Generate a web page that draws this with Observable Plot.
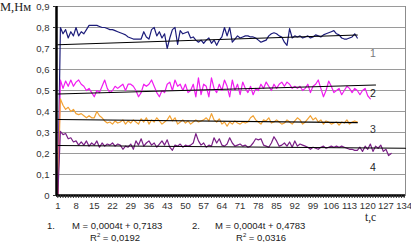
<!DOCTYPE html>
<html>
<head>
<meta charset="utf-8">
<script src="https://cdn.jsdelivr.net/npm/d3@7"></script>
<script src="https://cdn.jsdelivr.net/npm/@observablehq/plot@0.6"></script>
<style>
  html, body { margin: 0; padding: 0; background: #fff; }
</style>
</head>
<body>
<div id="chart"></div>
<script>
// ---- data ----
const yTicks = [0, 0.1, 0.2, 0.3, 0.4, 0.5, 0.6, 0.7, 0.8, 0.9];
const yTickLabels = ["0", "0,1", "0,2", "0,3", "0,4", "0,5", "0,6", "0,7", "0,8", "0,9"];
const xTickLabels = [1, 8, 15, 22, 29, 36, 43, 50, 57, 64, 71, 78, 85, 92, 99, 106, 113, 120, 127, 134];

// series 1 (t = 1..116)
const s1 = [0, .80, .77, .79, .75, .78, .76, .80, .76, .78, .77, .79,
  .81, .81, .81, .81, .805, .80, .80, .795,
  .79, .79, .785, .78, .775, .77, .765, .755, .75, .745, .745, .745, .745,
  .78, .755, .745, .79, .80, .76, .78, .75, .77, .70,
  .75, .79, .80, .72, .785, .77, .775, .78, .75, .755, .74, .73, .74, .725, .74, .75, .725,
  .74, .715, .74, .755, .80, .76, .80, .73, .745, .76, .75, .755, .76, .76, .755, .755,
  .75, .74, .73, .735, .74, .76, .77, .775, .77, .76, .755, .73,
  .715, .795, .75, .76, .755, .76, .75, .755, .76, .75, .755, .765, .76, .755, .765, .77,
  .775, .78, .785, .77, .765, .75, .745, .745, .75, .755, .77, .75];

// series 2 (t = 1..121)
const s2 = [0, .55, .51, .545, .52, .55, .52, .54, .55, .53, .52, .50, .51, .49, .47, .50, .49, .52,
  .55, .51, .49, .50, .52, .51, .52, .53, .50, .53, .53, .52, .50, .47, .49, .53, .52, .53, .55,
  .52, .49, .47, .50, .49, .53,
  .54, .50, .55, .52, .53, .50, .53, .49, .50, .53, .47, .56, .48, .53, .52, .47, .56, .51, .49,
  .53, .50, .55, .52, .47, .55, .50, .53, .48, .54, .51, .49, .52, .48, .51, .50, .53, .51, .54,
  .52, .50, .53, .51, .53, .54, .52,
  .54, .53, .51, .52, .51, .52, .50, .51, .53, .49, .52, .53, .55, .51, .47, .50, .545, .52, .49,
  .50, .51, .48, .50, .52, .51, .49, .51, .50, .48, .50, .51, .475, .46];

// series 3 (t = 1..116)
const s3 = [0, .46, .43, .41, .42, .40, .41, .39, .385, .39, .38, .37, .38, .37, .37, .40, .38, .37,
  .355, .345, .35, .34, .355, .345, .35, .36, .34, .355, .345, .36, .35, .34, .365, .35, .37, .34,
  .36, .35, .37, .355, .34, .35, .36, .38, .355, .37, .34, .35, .36, .345, .355, .34, .35, .36,
  .35, .355, .36, .37, .355, .39, .36, .35, .365, .34, .35, .33, .35, .34, .355, .345, .34, .35,
  .345, .35, .37, .38, .36, .35, .34, .36, .355, .37, .345, .35, .36, .35, .34, .345, .36, .35,
  .34, .355, .37, .36, .34, .35, .365, .38, .36, .37, .35, .36, .34, .355, .35, .34, .345, .35,
  .335, .35, .345, .36, .34, .35, .355, .35];

// series 4 (t = 1..129)
const s4 = [0, .305, .29, .295, .27, .275, .255, .26, .24, .255, .24, .26, .235, .25, .24, .26, .23,
  .25, .235, .245, .24, .25, .235, .245, .24, .22, .235, .23, .245, .22, .26, .24, .27, .235, .25,
  .26, .24, .25, .23, .245, .26, .24, .265, .23, .215, .24, .235, .245, .23, .24, .235, .24, .25,
  .295, .26, .24, .25, .23, .24, .235, .275, .25, .27, .24, .235, .245, .275, .25, .235, .24, .245,
  .235, .24, .23, .235, .25, .27, .265, .27, .24, .235, .23, .25, .28, .26, .235, .24, .25, .235,
  .255, .23, .26, .235, .245, .24, .235, .23, .22, .23, .225, .22, .23, .235, .225, .23, .235, .23,
  .235, .23, .235, .23, .225, .22, .22, .215, .215, .23, .21, .235, .22, .245, .21, .235, .225, .24,
  .21, .22, .19, .20];

// linear trend lines: endpoints [t, value]
const trend1 = [[1, 0.718], [116, 0.764]];
const trend2 = [[1, 0.483], [123, 0.526]];
const trend3 = [[1, 0.362], [116, 0.347]];
const trend4 = [[1, 0.238], [134.5, 0.225]];

const seriesNames = ["1", "2", "3", "4"];
const seriesColors = ["#1c1c7a", "#f01cf0", "#f2a233", "#7a1f86"];
const labelColors = ["#777", "#222", "#333", "#222"];
const labelT = [122, 122, 122, 122];
const labelV = [0.675, 0.485, 0.315, 0.135];

// ---- build tables ----
const allSeries = [s1, s2, s3, s4];
const lineData = allSeries.flatMap((arr, k) => arr.map((v, i) => ({t: i + 1, v, s: seriesNames[k]})));
const trends = [trend1, trend2, trend3, trend4];
const trendData = trends.flatMap((tr, k) => tr.map(([t, v]) => ({t, v, s: seriesNames[k]})));
const labelData = seriesNames.map((n, k) => ({n, t: labelT[k], v: labelV[k], c: labelColors[k]}));

const fmtY = d => yTickLabels[yTicks.findIndex(y => Math.abs(y - d) < 1e-9)];

const chart = Plot.plot({
  width: 411,
  height: 242,
  marginLeft: 56,
  marginRight: 6,
  marginTop: 6,
  marginBottom: 47,
  style: {fontFamily: "'Liberation Sans', Arial, sans-serif", fontSize: "9.5px", color: "#333", background: "#fff"},
  x: {domain: [0.5, 134.5]},
  y: {domain: [0, 0.9]},
  color: {domain: seriesNames, range: seriesColors},
  marks: [
    Plot.frame({stroke: "#8c8c8c"}),
    Plot.gridY(yTicks.filter(d => d > 0), {stroke: "#9a9a9a", strokeOpacity: 1, strokeWidth: 1}),
    Plot.line(lineData, {x: "t", y: "v", z: "s", stroke: "s", strokeWidth: 1.2}),
    Plot.line(trendData, {x: "t", y: "v", z: "s", stroke: "#000", strokeWidth: 1.1}),
    Plot.ruleX([0.5], {stroke: "#000", strokeWidth: 2.5}),
    Plot.ruleY([0], {stroke: "#000", strokeWidth: 2.5}),
    Plot.axisY({ticks: yTicks, tickFormat: fmtY, tickSize: 3, tickPadding: 4, label: null}),
    Plot.axisX({ticks: d3.range(1, 135), tickFormat: d => xTickLabels.includes(d) ? String(d) : "", tickSize: 3, tickPadding: 4, label: null}),
    Plot.text(labelData, {x: "t", y: "v", text: "n", fill: "c", fontSize: 10.5})
  ]
});

document.getElementById("chart").appendChild(chart);

// ---- annotations around the plot ----
const svg = d3.select(chart);
const serif = "'Liberation Serif', 'Times New Roman', serif";
const sans = "'Liberation Sans', Arial, sans-serif";
function note(x, y, txt, font, size, anchor) {
  return svg.append("text").attr("x", x).attr("y", y).attr("font-family", font)
    .attr("font-size", size).attr("fill", "#222").attr("text-anchor", anchor || "start").text(txt);
}
note(0, 11, "М,Нм", serif, 12.5);
note(365, 221, "t,с", serif, 11.5);
note(47, 229, "1.", sans, 9.5);
note(72, 229, "М = 0,0004t + 0,7183", sans, 9.5);
const r1 = note(90, 241, "R", sans, 9.5);
r1.append("tspan").attr("dy", -4).attr("font-size", 6).text("2");
r1.append("tspan").attr("dy", 4).text(" = 0,0192");
note(192, 229, "2.", sans, 9.5);
note(215, 229, "М = 0,0004t + 0,4783", sans, 9.5);
const r2 = note(236, 241, "R", sans, 9.5);
r2.append("tspan").attr("dy", -4).attr("font-size", 6).text("2");
r2.append("tspan").attr("dy", 4).text(" = 0,0316");
</script>
</body>
</html>
